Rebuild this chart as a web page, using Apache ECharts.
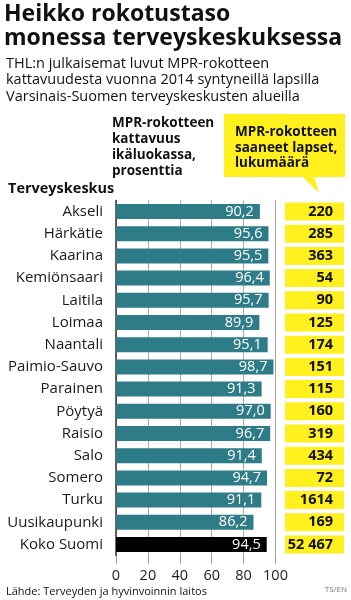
<!DOCTYPE html>
<html><head><meta charset="utf-8">
<script src="https://cdn.jsdelivr.net/npm/echarts@6/dist/echarts.min.js"></script>
<style>html,body{margin:0;padding:0;background:#fff}#c{width:351px;height:600px}</style>
</head><body><div id="c"></div>
<script>
var categories = ['Akseli','Härkätie','Kaarina','Kemiönsaari','Laitila','Loimaa','Naantali','Paimio-Sauvo','Parainen','Pöytyä','Raisio','Salo','Somero','Turku','Uusikaupunki','Koko Suomi'];
var coverage = [90.2,95.6,95.5,96.4,95.7,89.9,95.1,98.7,91.3,97.0,96.7,91.4,94.7,91.1,86.2,94.5];
var counts = [220,285,363,54,90,125,174,151,115,160,319,434,72,1614,169,52467];
var xTicks = [0,20,40,60,80,100];

var FONT = '"Open Sans"';
var TEAL = '#2d7c87';
var YEL = '#fff01e';
function fmtPct(v){ return v.toFixed(1).replace('.', ','); }
function fmtCount(n){ return n >= 10000 ? String(n).replace(/\B(?=(\d{3})+(?!\d))/g, ' ') : String(n); }

var gridTop = 200.4, gridH = 355.2;
var chart = echarts.init(document.getElementById('c'), null, {renderer:'canvas'});
function txt(x, y, s, size, weight, extra){
  return Object.assign({type:'text', x:x, y:y, style:{text:s, font: (weight||'normal') + ' ' + size + 'px ' + FONT, fill:'#111', textVerticalAlign:'middle'}}, extra||{});
}
var graphics = [
  txt(4, 14, 'Heikko rokotustaso', 23, 'bold'),
  txt(4, 38, 'monessa terveyskeskuksessa', 23, 'bold'),
  txt(6, 63.5, 'THL:n julkaisemat luvut MPR-rokotteen', 14.5),
  txt(6, 80, 'kattavuudesta vuonna 2014 syntyneillä lapsilla', 14.5),
  txt(6, 96.5, 'Varsinais-Suomen terveyskeskusten alueilla', 14.5),
  txt(112, 123, 'MPR-rokotteen', 13.5, 'bold'),
  txt(112, 139, 'kattavuus', 13.5, 'bold'),
  txt(112, 155, 'ikäluokassa,', 13.5, 'bold'),
  txt(112, 171, 'prosenttia', 13.5, 'bold'),
  txt(8, 189, 'Terveyskeskus', 14.5, 'bold'),
  {type:'polygon', shape:{points:[[224,114],[345,114],[345,177],[314,177],[319,193],[303,177],[224,177]]}, style:{fill:YEL}},
  txt(235, 132, 'MPR-rokotteen', 13.5, 'bold'),
  txt(235, 148, 'saaneet lapset,', 13.5, 'bold'),
  txt(235, 163.5, 'lukumäärä', 13.5, 'bold'),
  txt(6, 591.5, 'Lähde: Terveyden ja hyvinvoinnin laitos', 11),
  {type:'text', x:347, y:590, style:{text:'TS/EN', font:'normal 8px ' + FONT, fill:'#777', textAlign:'right', textVerticalAlign:'middle'}}
];

chart.setOption({
  animation:false,
  backgroundColor:'#fff',
  grid:[
    {left:116, width:159.5, top:gridTop, height:gridH},
    {left:285, width:59, top:gridTop, height:gridH}
  ],
  xAxis:[
    {gridIndex:0, type:'value', min:0, max:100, interval:20,
     axisLine:{show:false},
     axisTick:{show:true, length:8, lineStyle:{color:'#999'}},
     splitLine:{show:true, lineStyle:{color:'#aaa', width:1}},
     axisLabel:{margin:13, fontFamily:FONT, fontSize:14.5, color:'#222',
       formatter:function(v){ return xTicks.indexOf(v) >= 0 ? String(v) : ''; }}},
    {gridIndex:1, type:'value', min:0, max:1, show:false}
  ],
  yAxis:[
    {gridIndex:0, type:'category', data:categories, inverse:true,
     axisLine:{show:true, lineStyle:{color:'#333', width:1.5}},
     axisTick:{show:false},
     axisLabel:{margin:13, fontFamily:FONT, fontSize:15, color:'#1a1a1a'}},
    {gridIndex:1, type:'category', data:categories, inverse:true, show:false}
  ],
  series:[
    {type:'bar', xAxisIndex:0, yAxisIndex:0, barWidth:15,
     data: coverage.map(function(v,i){ return i === categories.length-1 ? {value:v, itemStyle:{color:'#000'}} : v; }),
     itemStyle:{color:TEAL},
     label:{show:true, position:'insideRight', distance:6, color:'#fff', fontFamily:FONT, fontSize:14.5,
       formatter:function(p){ return fmtPct(p.value); }}},
    {type:'bar', xAxisIndex:1, yAxisIndex:1, barWidth:18,
     data: counts.map(function(c){ return {value:1, count:c}; }),
     itemStyle:{color:YEL},
     label:{show:true, position:'insideRight', distance:11, color:'#111', fontFamily:FONT, fontWeight:'bold', fontSize:14.5,
       formatter:function(p){ return fmtCount(p.data.count); }}}
  ],
  graphic: graphics
});
</script></body></html>
